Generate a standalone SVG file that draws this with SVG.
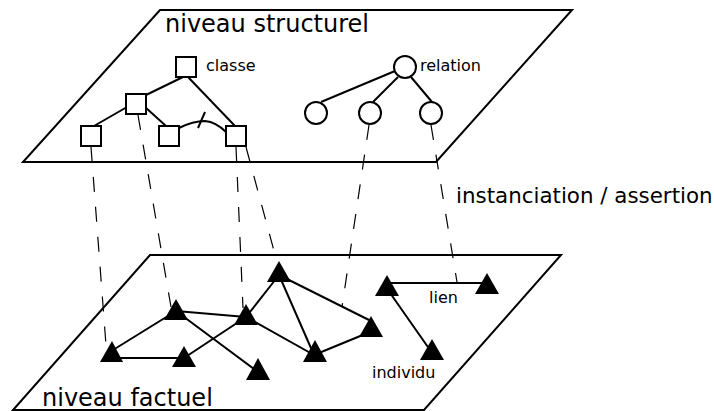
<svg xmlns="http://www.w3.org/2000/svg" width="714" height="411" viewBox="0 0 714 411">
<style>
.plane{fill:none;stroke:#000;stroke-width:2;stroke-linejoin:miter}
.sq{fill:#fff;stroke:#000;stroke-width:2}
.ci{fill:#fff;stroke:#000;stroke-width:2}
.tri{fill:#000;stroke:none}
.edge{fill:none;stroke:#000;stroke-width:2}
.dash{fill:none;stroke:#000;stroke-width:1.2;stroke-dasharray:15,15}
.big{font-family:"DejaVu Sans",sans-serif;font-size:24px;fill:#000}
.mid{font-family:"DejaVu Sans",sans-serif;font-size:21.4px;fill:#000}
.small{font-family:"DejaVu Sans",sans-serif;font-size:16px;fill:#000}
</style>
<g id="plane-structurel">
<polygon class="plane" points="160,10 572,10 436,162 23,162"/>
<text class="big" x="165" y="32">niveau structurel</text>
</g>
<g id="plane-factuel">
<polygon class="plane" points="150,255 561,255 424,410 13,410"/>
<text class="big" x="42" y="406">niveau factuel</text>
</g>
<g id="connectors">
<line class="edge" x1="183" y1="77" x2="146" y2="95"/>
<line class="edge" x1="188" y1="77" x2="235" y2="126"/>
<line class="edge" x1="127" y1="107" x2="94" y2="126"/>
<line class="edge" x1="145" y1="107" x2="166" y2="126"/>
<path class="edge" d="M179,128 Q193,121 205,121 Q216,122 226,132"/>
<line class="edge" x1="198" y1="128" x2="205" y2="112"/>
<line class="edge" x1="395" y1="71" x2="321" y2="102"/>
<line class="edge" x1="398" y1="77" x2="373" y2="102"/>
<line class="edge" x1="411" y1="77" x2="432" y2="102"/>
<line class="edge" x1="113" y1="350" x2="176" y2="311"/>
<line class="edge" x1="112" y1="358" x2="184" y2="358"/>
<line class="edge" x1="176" y1="311" x2="246" y2="317"/>
<line class="edge" x1="176" y1="311" x2="258" y2="372"/>
<line class="edge" x1="184" y1="358" x2="246" y2="317"/>
<line class="edge" x1="246" y1="317" x2="279" y2="275"/>
<line class="edge" x1="246" y1="317" x2="314" y2="355"/>
<line class="edge" x1="279" y1="275" x2="314" y2="355"/>
<line class="edge" x1="279" y1="275" x2="369" y2="320"/>
<line class="edge" x1="314" y1="355" x2="370" y2="332"/>
<line class="edge" x1="387" y1="283" x2="487" y2="283"/>
<line class="edge" x1="388" y1="290" x2="430" y2="350"/>
<line class="dash" x1="91" y1="147" x2="106" y2="345"/>
<line class="dash" x1="138" y1="115" x2="171" y2="307"/>
<line class="dash" x1="236" y1="147" x2="243" y2="308"/>
<line class="dash" x1="246" y1="147" x2="277" y2="262"/>
<line class="dash" x1="369" y1="125" x2="342" y2="307"/>
<line class="dash" x1="431" y1="125" x2="457" y2="282"/>
</g>
<g id="classe">
<rect class="sq" x="176" y="57" width="20" height="20"/>
<text class="small" x="206" y="71">classe</text>
</g>
<g id="classe-2"><rect class="sq" x="126" y="94" width="20" height="20"/></g>
<g id="classe-3"><rect class="sq" x="81" y="126" width="20" height="20"/></g>
<g id="classe-4"><rect class="sq" x="159" y="126" width="20" height="20"/></g>
<g id="classe-5"><rect class="sq" x="226" y="126" width="20" height="20"/></g>
<g id="relation">
<circle class="ci" cx="405" cy="67" r="11"/>
<text class="small" x="420" y="71">relation</text>
</g>
<g id="relation-1"><circle class="ci" cx="316" cy="113" r="11"/></g>
<g id="relation-2"><circle class="ci" cx="370" cy="113" r="11"/></g>
<g id="relation-3"><circle class="ci" cx="431" cy="113" r="11"/></g>
<g id="ind-1"><polygon class="tri" points="112,341 123,362 100,362"/></g>
<g id="ind-2"><polygon class="tri" points="176,299 188,320 164,320"/></g>
<g id="ind-3"><polygon class="tri" points="184,346 196,367 172,367"/></g>
<g id="ind-4"><polygon class="tri" points="246,304 258,325 234,325"/></g>
<g id="ind-5"><polygon class="tri" points="279,261 291,282 267,282"/></g>
<g id="ind-6"><polygon class="tri" points="258,358 270,380 246,380"/></g>
<g id="ind-7"><polygon class="tri" points="315,340 327,362 303,362"/></g>
<g id="ind-8"><polygon class="tri" points="371,316 383,337 359,337"/></g>
<g id="ind-9"><polygon class="tri" points="387,275 399,296 375,296"/></g>
<g id="ind-10"><polygon class="tri" points="487,273 499,294 475,294"/></g>
<g id="individu">
<polygon class="tri" points="432,339 444,360 420,360"/>
<text class="small" x="372" y="378">individu</text>
</g>
<g id="lien"><text class="small" x="429" y="303">lien</text></g>
<g id="label-instanciation"><text class="mid" x="456" y="203">instanciation / assertion</text></g>
</svg>
